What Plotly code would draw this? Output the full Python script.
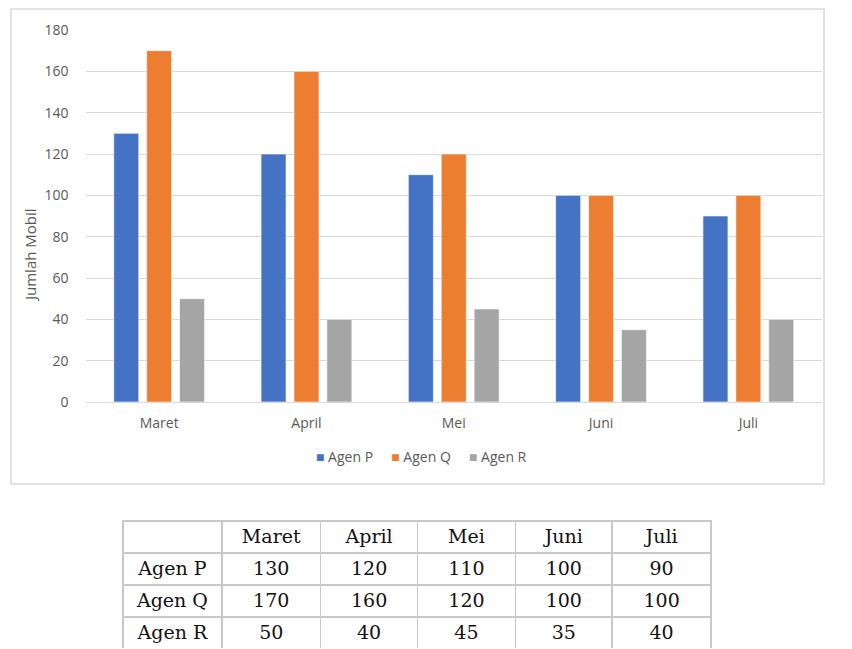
import plotly.graph_objects as go

W, H = 852, 649

months = ["Maret", "April", "Mei", "Juni", "Juli"]
agen_p = [130, 120, 110, 100, 90]
agen_q = [170, 160, 120, 100, 100]
agen_r = [50, 40, 45, 35, 40]
series_names = ["Agen P", "Agen Q", "Agen R"]
series_colors = ["#4472C4", "#ED7D31", "#A5A5A5"]
y_ticks = [0, 20, 40, 60, 80, 100, 120, 140, 160, 180]


def px_x(v):
    return v / W


def px_y(v):
    return 1 - v / H


fig = go.Figure()
for name, vals, col in zip(series_names, [agen_p, agen_q, agen_r], series_colors):
    fig.add_trace(go.Bar(
        x=months, y=vals, name=name,
        marker=dict(color=col, line=dict(color="rgba(255,255,255,0.6)", width=1)),
        xaxis="x", yaxis="y", showlegend=False,
    ))

# table
header_vals = [""] + months
cell_vals = [series_names] + [[p, q, r] for p, q, r in zip(agen_p, agen_q, agen_r)]
table_font = dict(family="DejaVu Serif, Liberation Serif, serif", size=19, color="#111")
fig.add_trace(go.Table(
    domain=dict(x=[px_x(123), px_x(712)], y=[0, px_y(521)]),
    columnwidth=[99, 99, 97, 98, 97, 99],
    header=dict(values=header_vals, height=32, align="center",
                line=dict(color="#c8c8c8", width=1.5),
                fill=dict(color="white"), font=table_font),
    cells=dict(values=cell_vals, height=32, align="center",
               line=dict(color="#c8c8c8", width=1.5),
               fill=dict(color="white"), font=table_font),
))

# legend as text built from series names/colours
nbsp = "&nbsp;" * 5
legend_text = nbsp.join(
    f"<span style='color:{c}'>■</span>&nbsp;{n}" for n, c in zip(series_names, series_colors)
)

fig.update_layout(
    width=W, height=H,
    margin=dict(l=0, r=0, t=0, b=0, pad=0, autoexpand=False),
    paper_bgcolor="white", plot_bgcolor="white",
    barmode="group", bargap=0.33, bargroupgap=0.24,
    font=dict(family="Open Sans, Liberation Sans, sans-serif", color="#595959", size=14),
    xaxis=dict(domain=[px_x(85.5), px_x(822)], showgrid=False, showline=True,
               linecolor="#d9d9d9", linewidth=1, ticks="", zeroline=False,
               ticklabelstandoff=8, automargin=False,
               tickfont=dict(size=14, color="#595959")),
    yaxis=dict(domain=[px_y(402), px_y(30)], range=[0, 180], tickvals=y_ticks,
               showgrid=True, gridcolor="#d9d9d9", gridwidth=1, zeroline=False,
               showline=False, ticks="", ticklabelstandoff=16, automargin=False,
               tickfont=dict(size=14, color="#595959")),
    showlegend=False,
    shapes=[dict(type="rect", xref="paper", yref="paper",
                 x0=px_x(11), x1=px_x(824), y0=px_y(484), y1=px_y(9),
                 line=dict(color="#d9d9d9", width=1.5), fillcolor="rgba(0,0,0,0)", layer="below")],
    annotations=[
        dict(text="Jumlah Mobil", xref="paper", yref="paper",
             x=px_x(30), y=px_y(255), textangle=-90, showarrow=False,
             xanchor="center", yanchor="middle",
             font=dict(size=15, color="#595959")),
        dict(text=legend_text, xref="paper", yref="paper",
             x=px_x(421), y=px_y(456), showarrow=False,
             xanchor="center", yanchor="middle",
             font=dict(size=14, color="#595959")),
    ],
)

fig.write_html(
    "out.html",
    config={"displayModeBar": False},
    post_script=(
        "document.body.style.margin='0';document.body.style.padding='0';"
        "document.body.style.overflow='hidden';"
    ),
)
